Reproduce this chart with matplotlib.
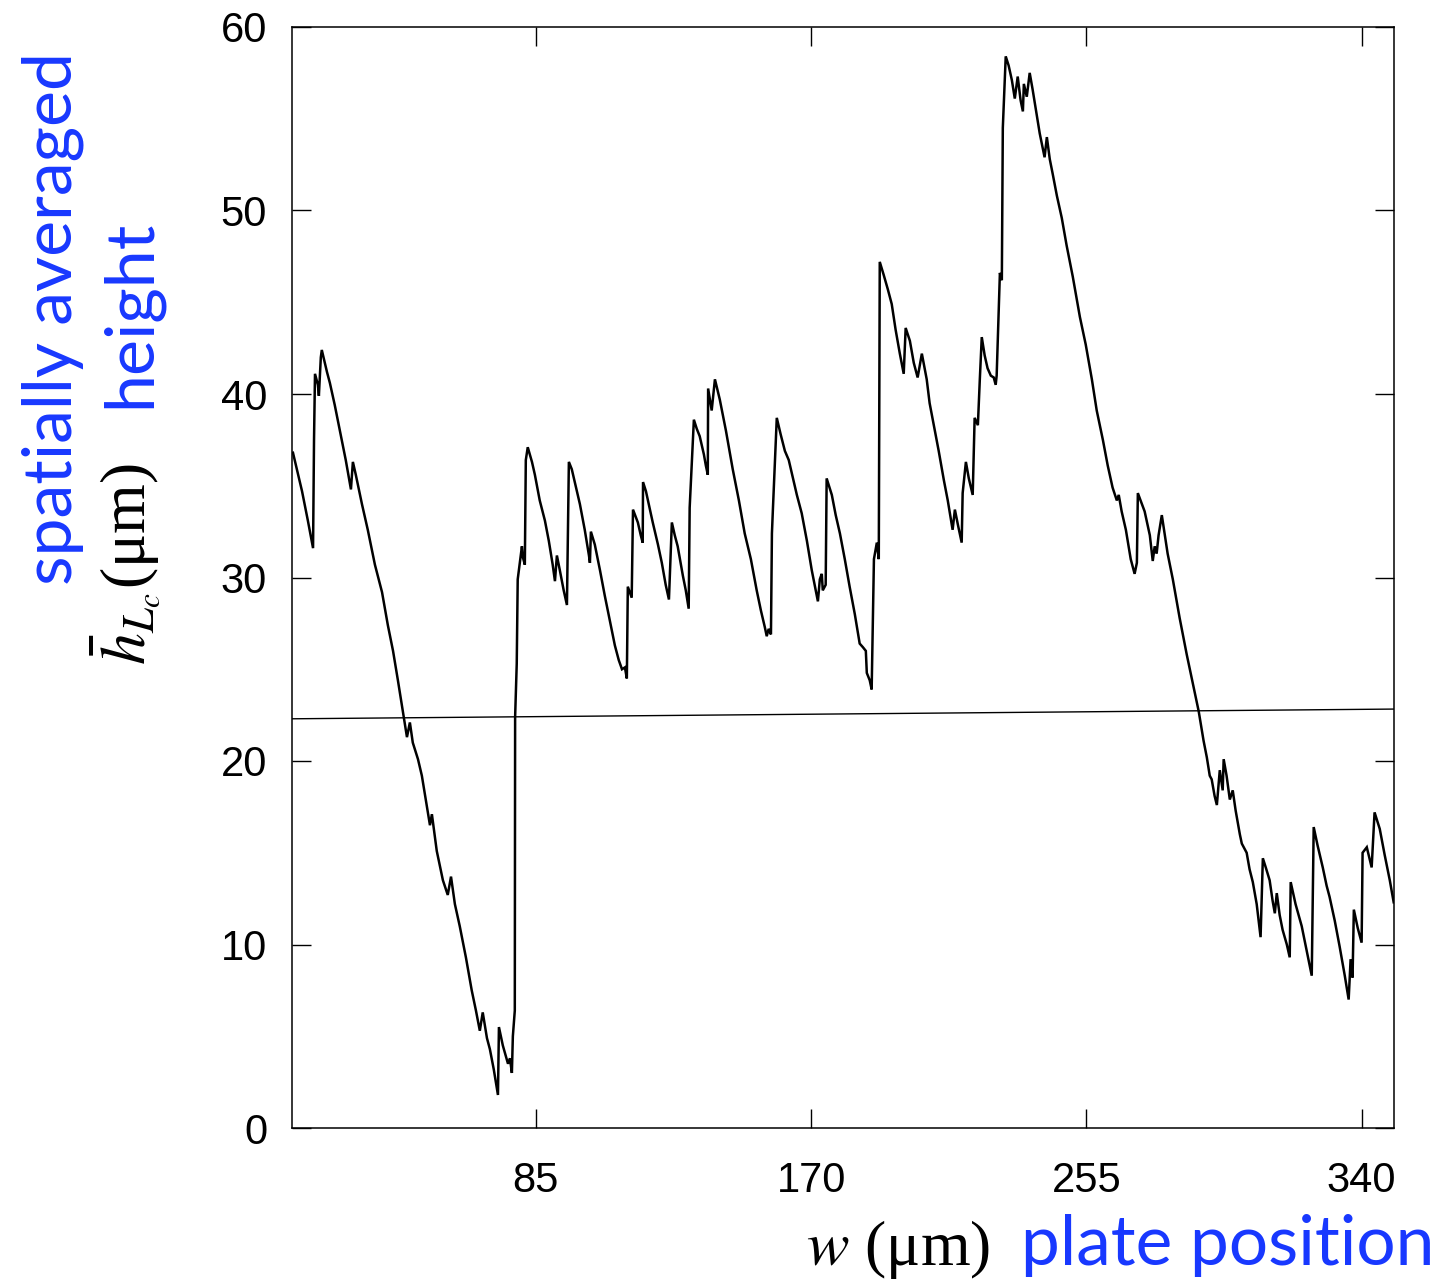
import matplotlib
matplotlib.use("Agg")
import matplotlib.pyplot as plt

# ---- data (w in um, averaged height in um) ----
w = [10.0, 11.2, 12.8, 14.6, 16.2, 16.5, 16.8, 17.7, 18.0, 18.6, 18.9, 20.5, 21.4, 22.9, 24.5,
     26.3, 27.9, 28.5, 29.4, 31.3, 33.1, 35.3, 37.5, 39.3, 40.9, 42.4, 44.2, 45.2, 46.1, 47.0,
     48.6, 49.8, 51.0, 52.3, 52.9, 54.4, 56.3, 57.8, 58.8, 60.0, 61.5, 63.4, 65.2, 66.5, 67.7,
     68.6, 69.9, 70.8, 72.0, 73.3, 73.6, 74.8, 76.4, 77.0, 77.6, 77.9, 78.5, 78.6, 79.1, 79.4,
     80.7, 81.0, 81.6, 81.9, 82.5, 83.8, 84.7, 86.2, 87.8, 89.0, 90.2, 90.9, 91.5, 92.4, 93.6,
     94.6, 95.2, 96.1, 97.3, 98.6, 100.1, 101.4, 101.7, 102.0, 103.2, 104.8, 106.3, 107.8, 109.4, 110.6,
     111.6, 112.5, 113.1, 113.4, 114.6, 115.0, 116.5, 117.4, 118.0, 118.1, 119.0, 121.1, 122.7, 123.9, 125.1,
     126.1, 127.0, 127.9, 128.8, 130.4, 131.3, 132.2, 132.5, 133.8, 134.7, 135.6, 136.9, 137.5, 138.1, 138.2,
     139.3, 140.3, 141.8, 143.7, 145.8, 147.7, 149.5, 151.4, 153.2, 154.5, 155.7, 156.3, 156.9, 157.6, 157.9,
     158.2, 159.4, 160.6, 161.9, 163.1, 164.3, 165.6, 167.1, 168.7, 170.2, 171.1, 172.1, 172.7, 173.3, 173.6,
     174.5, 174.8, 176.4, 177.6, 178.9, 180.4, 181.9, 183.5, 185.0, 186.0, 186.9, 187.2, 188.1, 188.7, 189.4,
     190.3, 190.9, 191.2, 192.4, 193.7, 194.9, 196.1, 197.4, 198.6, 199.2, 200.5, 201.7, 202.9, 204.2, 205.7,
     206.6, 207.9, 209.4, 211.0, 212.2, 213.7, 214.4, 215.3, 216.5, 216.8, 217.8, 218.7, 219.9, 220.5, 221.5,
     222.1, 222.7, 223.6, 224.5, 225.5, 226.4, 227.0, 227.3, 228.0, 228.3, 228.9, 229.2, 230.1, 231.0, 232.0,
     232.9, 233.8, 234.7, 235.4, 235.7, 236.6, 237.5, 238.4, 239.4, 240.6, 242.1, 242.8, 243.7, 244.6, 245.9,
     247.4, 248.9, 250.8, 253.0, 254.8, 256.7, 258.2, 260.1, 261.6, 263.1, 264.4, 265.0, 265.9, 267.2, 268.7,
     269.9, 270.6, 270.9, 273.0, 274.6, 275.5, 276.1, 276.7, 277.3, 278.3, 280.1, 281.7, 283.8, 286.0, 287.8,
     289.7, 291.2, 292.2, 293.1, 293.7, 294.6, 295.3, 296.2, 297.1, 297.4, 298.3, 299.3, 300.2, 301.1, 302.4,
     303.0, 304.5, 305.4, 306.4, 307.6, 308.8, 309.5, 310.4, 311.6, 312.5, 313.2, 313.8, 314.7, 315.6, 316.9,
     317.8, 318.1, 319.6, 321.5, 323.0, 324.6, 325.2, 326.4, 328.0, 329.2, 330.1, 331.7, 333.2, 334.8, 336.0,
     336.6, 337.2, 337.6, 338.8, 340.0, 340.3, 341.6, 343.1, 344.0, 345.6, 347.1, 348.7, 349.9]

h = [36.8, 35.9, 34.7, 33.1, 31.6, 37.5, 41.1, 40.5, 39.9, 42.0, 42.4, 41.2, 40.6, 39.4, 38.0,
     36.4, 34.8, 36.3, 35.6, 34.0, 32.6, 30.7, 29.2, 27.4, 26.0, 24.4, 22.4, 21.3, 22.1, 21.0,
     20.1, 19.2, 17.9, 16.5, 17.1, 15.1, 13.5, 12.7, 13.7, 12.2, 11.0, 9.3, 7.5, 6.4, 5.3,
     6.3, 4.9, 4.3, 3.2, 1.8, 5.5, 4.5, 3.5, 3.8, 3.0, 5.0, 6.4, 22.4, 25.3, 29.9,
     31.7, 31.1, 30.7, 36.4, 37.1, 36.3, 35.6, 34.2, 33.1, 32.0, 30.7, 29.8, 31.2, 30.4, 29.3,
     28.5, 36.3, 35.9, 35.0, 34.0, 32.6, 31.2, 30.8, 32.5, 31.8, 30.4, 29.0, 27.7, 26.3, 25.5,
     25.0, 25.1, 24.5, 29.5, 28.9, 33.7, 33.0, 32.3, 31.9, 35.2, 34.7, 33.0, 31.8, 30.8, 29.6,
     28.8, 33.0, 32.3, 31.7, 30.1, 29.3, 28.3, 33.8, 38.6, 38.1, 37.7, 36.7, 36.1, 35.6, 40.3,
     39.1, 40.8, 39.7, 38.0, 35.9, 34.2, 32.4, 31.0, 29.3, 28.2, 27.3, 26.8, 27.2, 26.9, 32.4,
     33.7, 38.7, 37.8, 36.9, 36.4, 35.5, 34.5, 33.5, 32.0, 30.4, 29.6, 28.7, 29.9, 30.2, 29.3,
     29.6, 35.4, 34.5, 33.4, 32.4, 31.0, 29.5, 28.0, 26.4, 26.2, 26.0, 24.8, 24.4, 23.9, 31.0,
     31.9, 31.0, 47.2, 46.5, 45.7, 44.9, 43.5, 42.2, 41.1, 43.6, 42.9, 41.7, 40.9, 42.2, 40.8,
     39.5, 38.3, 36.9, 35.3, 34.2, 32.6, 33.7, 32.9, 31.9, 34.6, 36.3, 35.4, 34.5, 38.7, 38.3,
     40.8, 43.1, 42.1, 41.4, 41.0, 40.9, 40.5, 41.0, 45.0, 46.6, 46.2, 54.5, 58.4, 57.9, 57.1,
     56.1, 57.3, 56.0, 55.4, 56.9, 56.2, 57.5, 56.6, 55.5, 54.2, 52.9, 54.0, 52.8, 52.0, 50.8,
     49.6, 48.1, 46.4, 44.2, 42.7, 40.8, 39.1, 37.5, 36.1, 34.9, 34.2, 34.5, 33.6, 32.6, 31.0,
     30.2, 30.8, 34.6, 33.6, 32.3, 30.9, 31.7, 31.3, 32.3, 33.4, 31.3, 29.9, 27.8, 25.8, 24.3,
     22.7, 21.1, 20.2, 19.2, 19.0, 18.1, 17.6, 19.5, 18.4, 20.1, 19.2, 17.9, 18.4, 17.3, 16.0,
     15.5, 15.0, 14.1, 13.4, 12.2, 10.4, 14.7, 14.2, 13.5, 12.4, 11.7, 12.8, 11.6, 10.8, 10.0,
     9.3, 13.4, 12.2, 11.0, 9.7, 8.3, 16.4, 15.4, 14.2, 13.2, 12.6, 11.3, 9.9, 8.3, 7.0,
     9.2, 8.2, 11.9, 10.9, 10.1, 15.0, 15.3, 14.2, 17.2, 16.3, 14.9, 13.5, 12.3]

# linear fit line across the plate
fit_w = [9.7, 350.0]
fit_h = [22.30, 22.83]

x_ticks = [85, 170, 255, 340]
y_ticks = [0, 10, 20, 30, 40, 50, 60]

BLUE = "#1838ff"
W, H = 1450, 1287

def fx(px):
    return px / W

def fy(py):
    return 1 - py / H

plt.rcParams["mathtext.fontset"] = "stix"

fig = plt.figure(figsize=(W / 100, H / 100), dpi=100)
ax = fig.add_axes([fx(292), fy(1128), fx(1394) - fx(292), fy(27) - fy(1128)])

ax.plot(w, h, color="black", lw=1.8, solid_joinstyle="miter")
ax.plot(fit_w, fit_h, color="black", lw=1.0)

ax.set_xlim(9.7, 350.0)
ax.set_ylim(0, 60)
ax.set_xticks(x_ticks)
ax.set_yticks(y_ticks)
ax.tick_params(direction="in", length=14, width=1.0, top=True, right=True,
               labelsize=30)
ax.tick_params(axis="y", pad=18)
ax.tick_params(axis="x", pad=24)
for lab in ax.get_xticklabels() + ax.get_yticklabels():
    lab.set_fontfamily("Liberation Sans")
for sp in ax.spines.values():
    sp.set_linewidth(1.1)

# x label: "w (um)" in serif + "plate position" in blue
fig.text(fx(806), fy(1265), "$w$ (μm)", fontsize=46, family="Liberation Serif",
         ha="left", va="baseline")
fig.text(fx(1021), fy(1265), "plate position", fontsize=50, family="Lato",
         color=BLUE, ha="left", va="baseline")

# y label pieces (rotated)
fig.text(fx(72), fy(585), "spatially averaged", fontsize=49, family="Lato",
         color=BLUE, rotation=90, rotation_mode="anchor", ha="left", va="baseline")
fig.text(fx(146), fy(665), r"$\bar{h}_{L_c}$(μm)", fontsize=46, family="Liberation Serif",
         rotation=90, rotation_mode="anchor", ha="left", va="baseline")
fig.text(fx(150), fy(408), "height", fontsize=49, family="Lato",
         color=BLUE, rotation=90, rotation_mode="anchor", ha="left", va="baseline")

fig.savefig("out.png", dpi=100)
